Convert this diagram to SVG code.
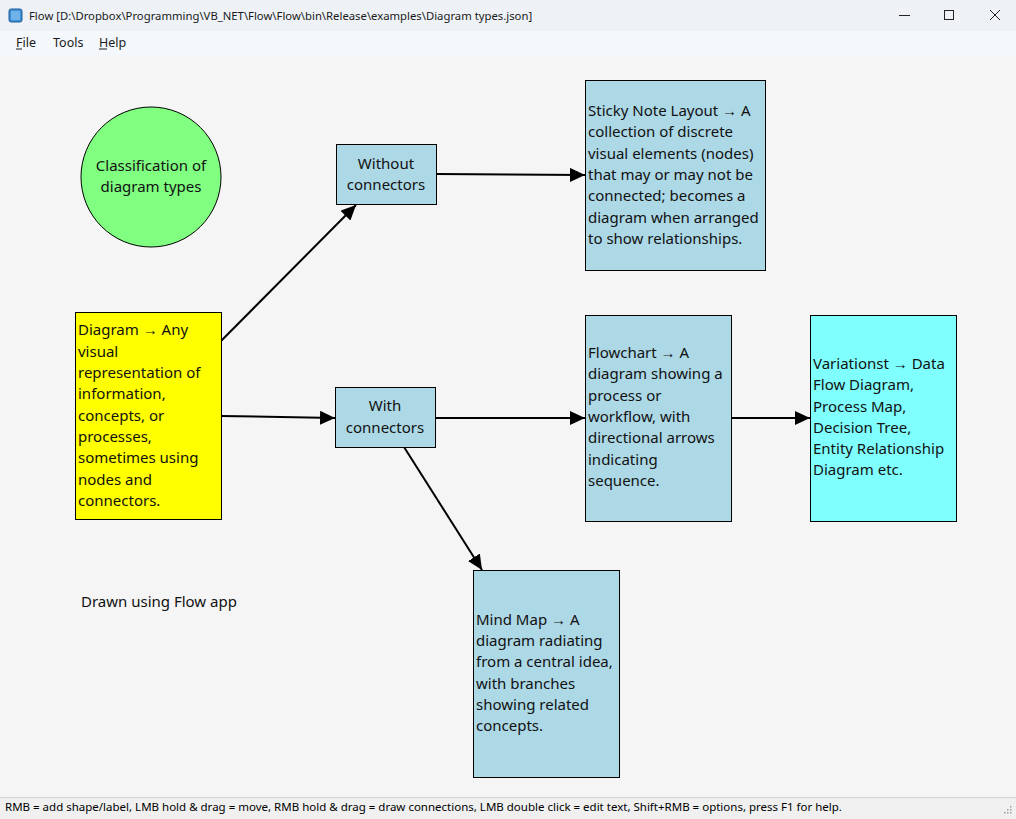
<svg xmlns="http://www.w3.org/2000/svg" width="1016" height="819" viewBox="0 0 1016 819">
<style>
  .chrome { font-family: "Noto Sans", "Open Sans", sans-serif; fill: #1a1a1a; }
  .title { font-size: 11.3px; }
  .menu { font-size: 12.5px; }
  .status { font-family: "Noto Sans", "Liberation Sans", sans-serif; font-size: 11.5px; fill: #000; }
  .node { stroke: #000; stroke-width: 1; }
  .txt { font-family: "Noto Sans", "Open Sans", sans-serif; font-size: 15px; fill: #111; }
  .mid { text-anchor: middle; }
  .conn { stroke: #000; stroke-width: 2; fill: none; marker-end: url(#arrow); }
</style>
<defs>
  <marker id="arrow" markerUnits="userSpaceOnUse" markerWidth="16" markerHeight="14" refX="15" refY="7" orient="auto">
    <path d="M0,0 L15,7 L0,14 z" fill="#000"/>
  </marker>
</defs>

<!-- window chrome -->
<rect x="0" y="0" width="1016" height="819" fill="#f5f5f5"/>
<rect x="0" y="0" width="1016" height="31" fill="#eef2f7"/>
<rect x="9" y="9" width="13" height="13" rx="2" fill="#3d8fd6" stroke="#1f5f99" stroke-width="1"/>
<rect x="11" y="11" width="9" height="9" rx="1" fill="#6fb3ea"/>
<text class="chrome title" x="29" y="20">Flow [D:\Dropbox\Programming\VB_NET\Flow\Flow\bin\Release\examples\Diagram types.json]</text>
<line x1="899" y1="15.5" x2="910" y2="15.5" stroke="#222" stroke-width="1"/>
<rect x="944.5" y="10.5" width="9" height="9" fill="none" stroke="#222" stroke-width="1"/>
<path d="M990,10 L1000,20 M1000,10 L990,20" stroke="#222" stroke-width="1"/>
<rect x="0" y="31" width="1016" height="25" fill="#f4f7fb"/>
<text class="chrome menu" x="16" y="47">File</text>
<line x1="16" y1="49" x2="22" y2="49" stroke="#1a1a1a" stroke-width="1"/>
<text class="chrome menu" x="53" y="47">Tools</text>
<text class="chrome menu" x="99" y="47">Help</text>
<line x1="99" y1="49" x2="107" y2="49" stroke="#1a1a1a" stroke-width="1"/>
<rect x="0" y="56" width="1016" height="741" fill="#f5f5f5"/>
<rect x="0" y="797" width="1016" height="22" fill="#f0f0f0"/>
<line x1="0" y1="797.5" x2="1016" y2="797.5" stroke="#d4d4d4" stroke-width="1"/>
<text class="status" x="5" y="811">RMB = add shape/label, LMB hold &amp; drag = move, RMB hold &amp; drag = draw connections, LMB double click = edit text, Shift+RMB = options, press F1 for help.</text>
<g fill="#a0a0a0">
  <rect x="1010" y="806" width="1.5" height="1.5"/>
  <rect x="1007" y="809" width="1.5" height="1.5"/>
  <rect x="1010" y="809" width="1.5" height="1.5"/>
  <rect x="1004" y="812" width="1.5" height="1.5"/>
  <rect x="1007" y="812" width="1.5" height="1.5"/>
  <rect x="1010" y="812" width="1.5" height="1.5"/>
</g>

<!-- connectors -->
<g id="connectors">
  <line class="conn" x1="221" y1="341" x2="356" y2="205"/>
  <line class="conn" x1="221" y1="416" x2="335" y2="418"/>
  <line class="conn" x1="436" y1="174" x2="585" y2="175"/>
  <line class="conn" x1="435" y1="418" x2="585" y2="418"/>
  <line class="conn" x1="731" y1="418" x2="810" y2="418"/>
  <line class="conn" x1="404" y1="447" x2="482" y2="570"/>
</g>

<!-- nodes -->
<g id="classification">
  <circle class="node" cx="151" cy="177" r="70" fill="#80ff80"/>
  <text class="txt mid" x="151" y="171">Classification of</text>
  <text class="txt mid" x="151" y="192">diagram types</text>
</g>

<g id="without-connectors">
  <rect class="node" x="336.5" y="144.5" width="100" height="60" fill="#add8e6"/>
  <text class="txt mid" x="386" y="169">Without</text>
  <text class="txt mid" x="386" y="190">connectors</text>
</g>

<g id="sticky-note">
  <rect class="node" x="585.5" y="80.5" width="180" height="190" fill="#add8e6"/>
  <text class="txt" x="588" y="116">Sticky Note Layout → A</text>
  <text class="txt" x="588" y="137">collection of discrete</text>
  <text class="txt" x="588" y="159">visual elements (nodes)</text>
  <text class="txt" x="588" y="180">that may or may not be</text>
  <text class="txt" x="588" y="201">connected; becomes a</text>
  <text class="txt" x="588" y="223">diagram when arranged</text>
  <text class="txt" x="588" y="244">to show relationships.</text>
</g>

<g id="diagram">
  <rect class="node" x="75.5" y="312.5" width="146" height="207" fill="#ffff00"/>
  <text class="txt" x="78" y="335">Diagram → Any</text>
  <text class="txt" x="78" y="357">visual</text>
  <text class="txt" x="78" y="378">representation of</text>
  <text class="txt" x="78" y="399">information,</text>
  <text class="txt" x="78" y="421">concepts, or</text>
  <text class="txt" x="78" y="442">processes,</text>
  <text class="txt" x="78" y="463">sometimes using</text>
  <text class="txt" x="78" y="485">nodes and</text>
  <text class="txt" x="78" y="506">connectors.</text>
</g>

<g id="with-connectors">
  <rect class="node" x="335.5" y="387.5" width="100" height="60" fill="#add8e6"/>
  <text class="txt mid" x="385" y="411">With</text>
  <text class="txt mid" x="385" y="433">connectors</text>
</g>

<g id="flowchart">
  <rect class="node" x="585.5" y="315.5" width="146" height="206" fill="#add8e6"/>
  <text class="txt" x="588" y="358">Flowchart → A</text>
  <text class="txt" x="588" y="379">diagram showing a</text>
  <text class="txt" x="588" y="401">process or</text>
  <text class="txt" x="588" y="422">workflow, with</text>
  <text class="txt" x="588" y="443">directional arrows</text>
  <text class="txt" x="588" y="465">indicating</text>
  <text class="txt" x="588" y="486">sequence.</text>
</g>

<g id="variations">
  <rect class="node" x="810.5" y="315.5" width="146" height="206" fill="#80ffff"/>
  <text class="txt" x="813" y="369">Variationst → Data</text>
  <text class="txt" x="813" y="390">Flow Diagram,</text>
  <text class="txt" x="813" y="412">Process Map,</text>
  <text class="txt" x="813" y="433">Decision Tree,</text>
  <text class="txt" x="813" y="454">Entity Relationship</text>
  <text class="txt" x="813" y="475">Diagram etc.</text>
</g>

<g id="mind-map">
  <rect class="node" x="473.5" y="570.5" width="146" height="207" fill="#add8e6"/>
  <text class="txt" x="476" y="625">Mind Map → A</text>
  <text class="txt" x="476" y="646">diagram radiating</text>
  <text class="txt" x="476" y="667">from a central idea,</text>
  <text class="txt" x="476" y="689">with branches</text>
  <text class="txt" x="476" y="710">showing related</text>
  <text class="txt" x="476" y="731">concepts.</text>
</g>

<g id="label-drawn">
  <text class="txt" x="81" y="607">Drawn using Flow app</text>
</g>
</svg>
